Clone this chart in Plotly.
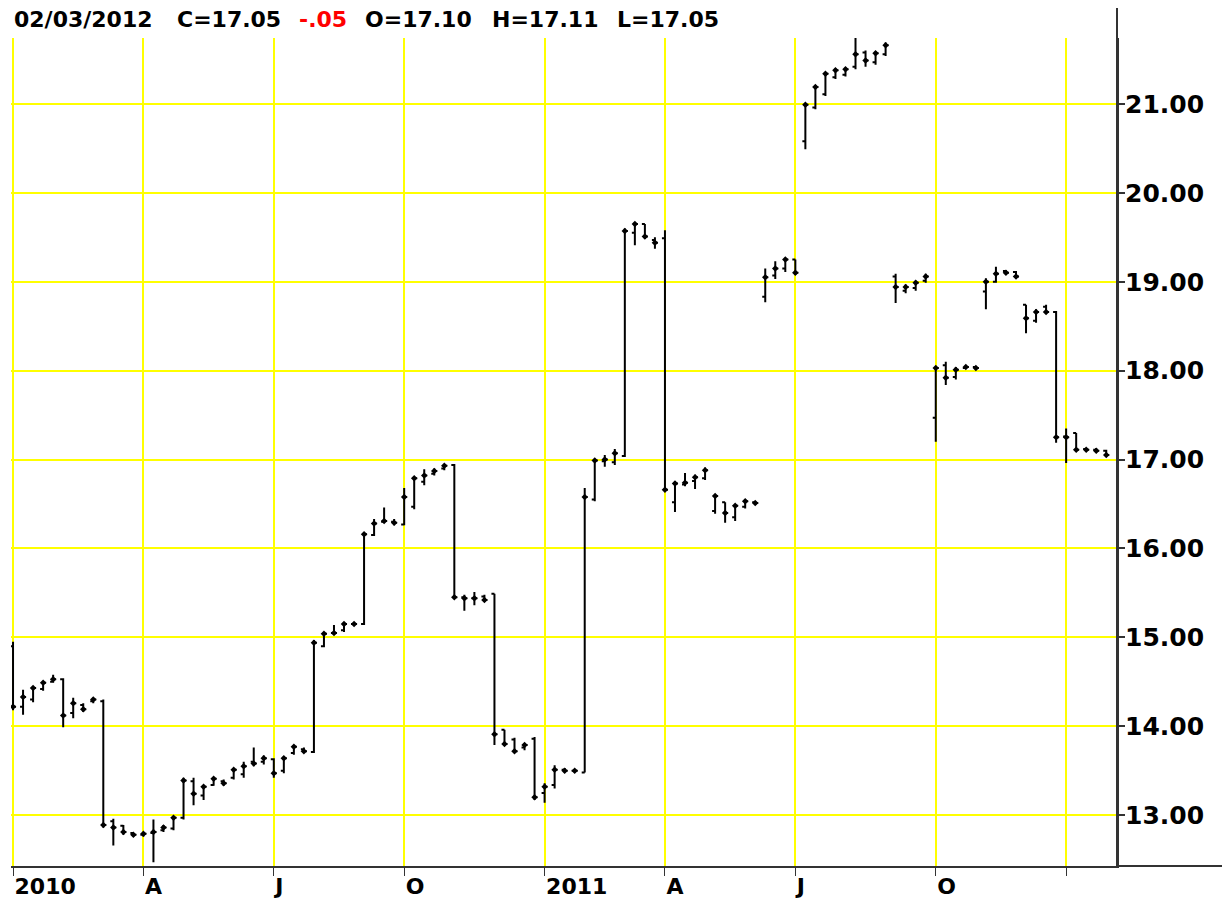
import pandas as pd
import plotly.graph_objects as go

# Weekly bars (Fridays) from 2010-01-01 to 2012-02-03
dates = pd.date_range("2010-01-01", periods=110, freq="7D")

opens = [14.90, 14.22, 14.30, 14.42, 14.50, 14.53, 14.15, 14.24, 14.28, 14.28,
         12.93, 12.88, 12.80, 12.78, 12.80, 12.83, 12.85, 12.97, 13.38, 13.22,
         13.34, 13.38, 13.42, 13.46, 13.60, 13.60, 13.63, 13.50, 13.70, 13.74,
         13.71, 14.90, 15.05, 15.08, 15.15, 15.15, 16.15, 16.30, 16.30, 16.27,
         16.47, 16.75, 16.84, 16.90, 16.94, 15.45, 15.44, 15.46, 15.49, 13.96,
         13.85, 13.76, 13.86, 13.25, 13.34, 13.51, 13.50, 13.48, 16.55, 16.98,
         16.97, 17.04, 19.55, 19.65, 19.47, 19.49, 16.52, 16.72, 16.76, 16.79,
         16.42, 16.52, 16.35, 16.47, 16.52, 18.83, 19.07, 19.15, 19.25, 20.58,
         20.96, 21.11, 21.30, 21.33, 21.42, 21.58, 21.47, 21.56, 19.06, 18.90,
         18.93, 19.01, 17.47, 18.06, 17.93, 18.03, 18.04, 18.89, 19.00, 19.12,
         19.11, 18.74, 18.56, 18.72, 18.66, 17.26, 17.30, 17.12, 17.11, 17.10]
highs = [14.95, 14.41, 14.44, 14.51, 14.58, 14.54, 14.32, 14.26, 14.32, 14.30,
         12.96, 12.89, 12.80, 12.81, 12.95, 12.89, 12.98, 13.42, 13.42, 13.34,
         13.43, 13.40, 13.53, 13.60, 13.76, 13.67, 13.64, 13.66, 13.79, 13.76,
         14.97, 15.05, 15.14, 15.17, 15.17, 16.17, 16.33, 16.46, 16.33, 16.68,
         16.80, 16.89, 16.90, 16.95, 16.95, 15.48, 15.51, 15.48, 15.49, 13.96,
         13.87, 13.81, 13.88, 13.36, 13.56, 13.53, 13.52, 16.68, 17.01, 17.05,
         17.12, 19.60, 19.67, 19.65, 19.50, 19.58, 16.76, 16.85, 16.83, 16.91,
         16.61, 16.52, 16.50, 16.55, 16.53, 19.15, 19.23, 19.27, 19.25, 21.01,
         21.21, 21.36, 21.40, 21.41, 21.76, 21.60, 21.59, 21.69, 19.09, 18.97,
         19.01, 19.09, 18.04, 18.10, 18.04, 18.06, 18.05, 19.04, 19.17, 19.13,
         19.12, 18.74, 18.69, 18.74, 18.67, 17.35, 17.30, 17.13, 17.13, 17.11]
lows = [14.18, 14.13, 14.27, 14.40, 14.49, 13.99, 14.09, 14.16, 14.26, 12.86,
        12.66, 12.78, 12.76, 12.76, 12.47, 12.81, 12.83, 12.95, 13.11, 13.17,
        13.33, 13.33, 13.40, 13.42, 13.55, 13.57, 13.42, 13.47, 13.68, 13.70,
        13.70, 14.89, 15.03, 15.06, 15.13, 15.14, 16.14, 16.29, 16.26, 16.26,
        16.44, 16.71, 16.82, 16.88, 15.44, 15.30, 15.36, 15.40, 13.79, 13.78,
        13.70, 13.73, 13.17, 13.14, 13.30, 13.48, 13.48, 13.48, 16.53, 16.92,
        16.94, 17.03, 19.41, 19.48, 19.37, 16.64, 16.41, 16.70, 16.67, 16.77,
        16.39, 16.29, 16.31, 16.45, 16.49, 18.77, 19.03, 19.11, 19.08, 20.49,
        20.94, 21.09, 21.28, 21.31, 21.39, 21.42, 21.44, 21.54, 18.76, 18.87,
        18.90, 18.99, 17.20, 17.84, 17.90, 18.02, 18.01, 18.69, 18.99, 19.08,
        19.04, 18.42, 18.54, 18.64, 17.19, 16.96, 17.09, 17.09, 17.09, 17.05]
closes = [14.22, 14.33, 14.43, 14.49, 14.53, 14.12, 14.26, 14.19, 14.30, 12.89,
          12.86, 12.81, 12.78, 12.79, 12.81, 12.86, 12.97, 13.39, 13.24, 13.32,
          13.41, 13.36, 13.51, 13.55, 13.58, 13.64, 13.47, 13.64, 13.77, 13.72,
          14.94, 15.04, 15.05, 15.15, 15.15, 16.16, 16.28, 16.31, 16.29, 16.58,
          16.79, 16.82, 16.87, 16.93, 15.45, 15.44, 15.44, 15.42, 13.91, 13.80,
          13.72, 13.79, 13.20, 13.32, 13.51, 13.50, 13.50, 16.58, 16.99, 17.00,
          17.07, 19.57, 19.65, 19.51, 19.44, 16.66, 16.73, 16.74, 16.80, 16.88,
          16.59, 16.40, 16.48, 16.53, 16.51, 19.05, 19.15, 19.25, 19.10, 20.99,
          21.19, 21.34, 21.38, 21.39, 21.56, 21.49, 21.57, 21.66, 18.94, 18.94,
          18.99, 19.06, 18.03, 17.92, 18.01, 18.04, 18.03, 19.00, 19.09, 19.10,
          19.06, 18.59, 18.66, 18.66, 17.25, 17.25, 17.11, 17.11, 17.10, 17.05]

y_ticks = [13, 14, 15, 16, 17, 18, 19, 20, 21]
y_tick_labels = ["13.00", "14.00", "15.00", "16.00", "17.00", "18.00", "19.00", "20.00", "21.00"]
x_tick_dates = ["2010-01-01", "2010-04-02", "2010-07-02", "2010-10-01", "2011-01-07",
                "2011-04-01", "2011-07-01", "2011-10-07", "2012-01-06"]
x_tick_labels = ["2010", "A", "J", "O", "2011", "A", "J", "O", ""]

FONT = "DejaVu Sans"
# page body has an 8px default margin; size the figure so the plot lands where the reference has it
OFF = 8
W, H = 1230 - OFF, 904 - OFF
ML, MR, MT, MB = 11 - OFF, 113, 38 - OFF, 38
PW, PH = W - ML - MR, H - MT - MB

fig = go.Figure()
fig.add_trace(go.Ohlc(
    x=dates, open=opens, high=highs, low=lows, close=closes,
    increasing=dict(line=dict(color="black", width=2)),
    decreasing=dict(line=dict(color="black", width=2)),
    tickwidth=0.3, showlegend=False, hoverinfo="skip",
))
fig.add_trace(go.Scatter(
    x=dates, y=closes, mode="markers",
    marker=dict(symbol="diamond", size=5, color="black"),
    showlegend=False, hoverinfo="skip",
))

fig.update_layout(
    width=W, height=H,
    margin=dict(l=ML, r=MR, t=MT, b=MB, pad=0, autoexpand=False),
    paper_bgcolor="white", plot_bgcolor="white",
    showlegend=False,
    xaxis=dict(
        type="date", automargin=False,
        range=["2009-12-30 14:00", "2012-02-10 12:00"],
        tickmode="array", tickvals=x_tick_dates, ticktext=x_tick_labels,
        ticklabelposition="outside right",
        showgrid=True, gridcolor="#FFFF00", gridwidth=2,
        showline=True, linecolor="#333333", linewidth=2,
        ticks="outside", ticklen=8, tickcolor="#333333", tickwidth=1,
        tickfont=dict(family=FONT, size=22, color="black", weight="bold"),
        rangeslider=dict(visible=False), zeroline=False, fixedrange=True,
    ),
    yaxis=dict(
        side="right", automargin=False,
        range=[12.428, 21.742],
        tickmode="array", tickvals=y_ticks, ticktext=y_tick_labels,
        showgrid=True, gridcolor="#FFFF00", gridwidth=2,
        showline=True, linecolor="#333333", linewidth=2,
        ticks="outside", ticklen=6, tickcolor="#333333", tickwidth=2,
        ticklabelstandoff=-5,
        tickfont=dict(family=FONT, size=25, color="black", weight="bold"),
        zeroline=False, fixedrange=True,
    ),
)

# right axis line extending to the top, bottom axis extending to right edge
fig.add_shape(type="line", xref="paper", yref="paper", x0=1, x1=1, y0=0, y1=1 + MT / PH,
              line=dict(color="#333333", width=2))
fig.add_shape(type="line", xref="paper", yref="paper", x0=1, x1=(W - ML) / PW, y0=0, y1=0,
              line=dict(color="#333333", width=2))

# header
chg = closes[-1] - closes[-2]
chg_txt = ("-" if chg < 0 else "+") + f"{abs(chg):.2f}".lstrip("0")
header = [
    (dates[-1].strftime("%m/%d/%Y"), 12, "black"),
    (f"C={closes[-1]:.2f}", 175, "black"),
    (chg_txt, 297, "red"),
    (f"O={opens[-1]:.2f}", 363, "black"),
    (f"H={highs[-1]:.2f}", 490, "black"),
    (f"L={lows[-1]:.2f}", 615, "black"),
]
for txt, px, col in header:
    fig.add_annotation(
        text=txt, xref="paper", yref="paper",
        x=(px - 11) / PW, y=1 + (38 - 20) / PH,
        xanchor="left", yanchor="middle", showarrow=False,
        font=dict(family=FONT, size=22, color=col, weight="bold"),
    )

fig.write_html("out.html")
